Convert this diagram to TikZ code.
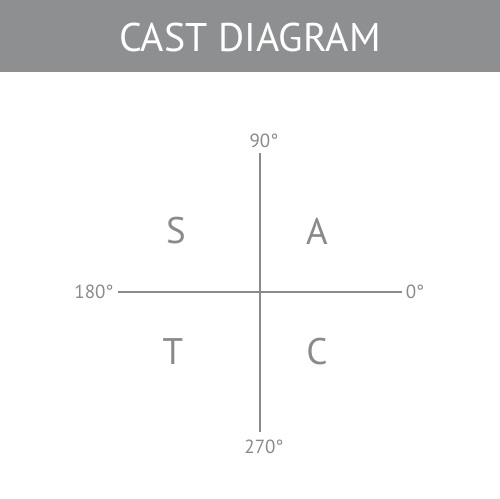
\documentclass[tikz,border=0pt]{standalone}
\usepackage{fontspec}
\setmainfont{PT Sans}
\usepackage{tikz}
\usetikzlibrary{positioning}
\definecolor{castgray}{HTML}{8E8F91}
\definecolor{axisgray}{HTML}{8A8A8A}
\tikzstyle{angle} = [text=axisgray, font=\fontsize{19}{19}\selectfont, inner sep=4pt]
\tikzstyle{quadrant} = [text=axisgray, font=\fontsize{37}{37}\selectfont, inner sep=0pt]
\tikzstyle{axis} = [draw=axisgray, line width=2.2pt]

\begin{document}
\begin{tikzpicture}[x=1pt, y=-1pt]
\useasboundingbox (0,0) rectangle (500,498);
\fill[white] (0,0) rectangle (500,498);
% header
\fill[castgray] (0,0) rectangle (500,72);
\node (title) [text=white, font=\fontsize{40}{40}\selectfont] at (250,37) {CAST DIAGRAM};

% angle labels
\node (deg90)  [angle] at (264,141) {90°};
\node (deg270) [angle] at (264,447) {270°};
\node (deg180) [angle] at (94,292) {180°};
\node (deg0)   [angle] at (415,292) {0°};

% axes
\coordinate (top) at (260,153);
\coordinate (bottom) at (260,432);
\draw [axis] (deg180) -- (deg0);
\draw [axis] (top) -- (bottom);

% quadrants
\node (qs) [quadrant] at (176,231) {S};
\node (qa) [quadrant] at (317,231) {A};
\node (qt) [quadrant] at (173,352) {T};
\node (qc) [quadrant] at (317,352) {C};
\end{tikzpicture}
\end{document}
